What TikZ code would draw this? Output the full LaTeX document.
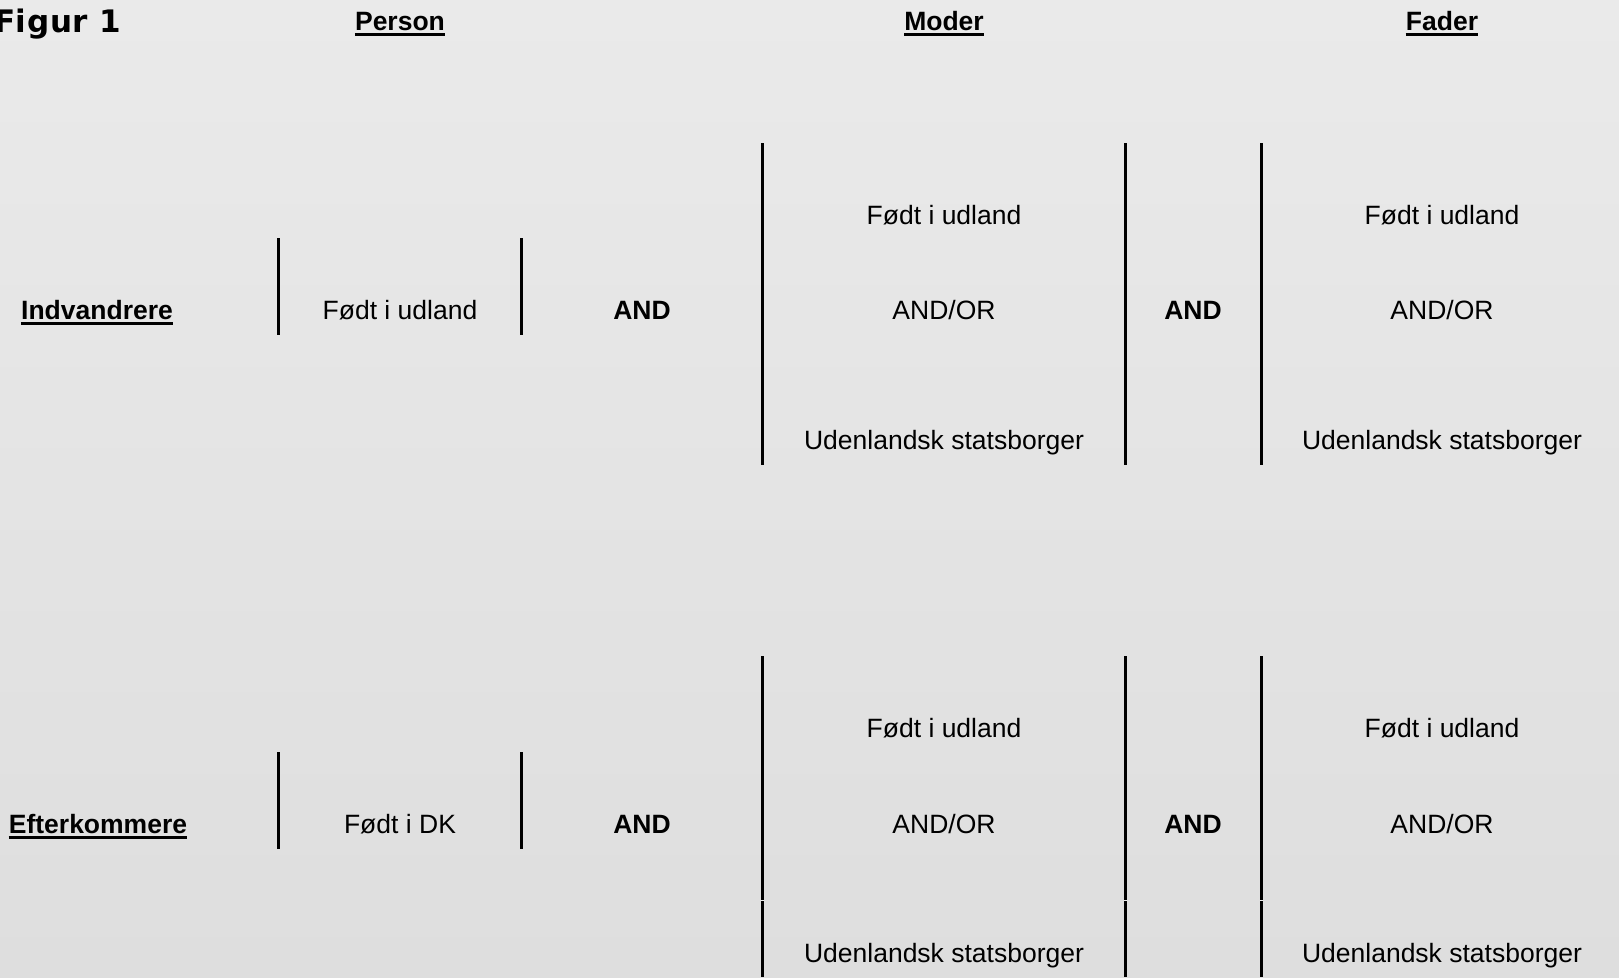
\documentclass[tikz,border=0pt]{standalone}
\usepackage{fontspec}
\setmainfont{Liberation Sans}
\newfontfamily\figfont[LetterSpace=2]{DejaVu Sans}
\begin{document}
\begin{tikzpicture}[x=1pt,y=-1pt,
  txt/.style={font=\fontsize{26.5}{30}\selectfont, inner sep=0pt, anchor=base},
  bold/.style={txt, font=\fontsize{26.5}{30}\selectfont\bfseries},
  bar/.style={line width=3pt, black},
  ul/.style={line width=2.6pt, black}]
\shade[top color={rgb,255:red,234;green,234;blue,234}, bottom color={rgb,255:red,222;green,222;blue,222}] (0,0) rectangle (1619,977);
\useasboundingbox (0,0) rectangle (1619,977);

% title
\node[inner sep=0pt, anchor=base west, font=\fontsize{31}{35}\selectfont\figfont\bfseries] (fig) at (-6,32.5) {Figur 1};

% headers
\node[bold] (hperson) at (400,30.5) {Person};
\node[bold] (hmoder) at (944,30.5) {Moder};
\node[bold] (hfader) at (1442,30.5) {Fader};
\foreach \n in {hperson,hmoder,hfader}
  \draw[ul] ([yshift=-4]\n.base west) -- ([yshift=-4]\n.base east);

% row 1
\node[bold] (ind) at (97,319.5) {Indvandrere};
\draw[ul] ([yshift=-4]ind.base west) -- ([yshift=-4]ind.base east);
\coordinate (s1a) at (278.5,238); \coordinate (s1b) at (278.5,335);
\coordinate (s2a) at (521,238); \coordinate (s2b) at (521,335);
\draw[bar] (s1a) -- (s1b);
\draw[bar] (s2a) -- (s2b);
\node[txt] (p1) at (400,319.5) {Født i udland};
\node[bold] (and1) at (642,319.5) {AND};
\coordinate (b1a) at (762.5,143); \coordinate (b1b) at (762.5,465);
\coordinate (b2a) at (1125.5,143); \coordinate (b2b) at (1125.5,465);
\coordinate (b3a) at (1261.5,143); \coordinate (b3b) at (1261.5,465);
\draw[bar] (b1a) -- (b1b);
\draw[bar] (b2a) -- (b2b);
\draw[bar] (b3a) -- (b3b);
\node[txt] (m1a) at (944,224.5) {Født i udland};
\node[txt] (m1b) at (944,319.5) {AND/OR};
\node[txt] (m1c) at (944,449.5) {Udenlandsk statsborger};
\node[bold] (and2) at (1193,319.5) {AND};
\node[txt] (f1a) at (1442,224.5) {Født i udland};
\node[txt] (f1b) at (1442,319.5) {AND/OR};
\node[txt] (f1c) at (1442,449.5) {Udenlandsk statsborger};

% row 2
\node[bold] (eft) at (98,833.5) {Efterkommere};
\draw[ul] ([yshift=-4]eft.base west) -- ([yshift=-4]eft.base east);
\coordinate (t1a) at (278.5,752); \coordinate (t1b) at (278.5,849);
\coordinate (t2a) at (521,752); \coordinate (t2b) at (521,849);
\draw[bar] (t1a) -- (t1b);
\draw[bar] (t2a) -- (t2b);
\node[txt] (p2) at (400,833.5) {Født i DK};
\node[bold] (and3) at (642,833.5) {AND};
\foreach \x [count=\i] in {762.5,1125.5,1261.5}{
  \coordinate (c\i a) at (\x,656);
  \coordinate (c\i b) at (\x,899.5);
  \coordinate (c\i c) at (\x,901);
  \coordinate (c\i d) at (\x,977);
  \draw[bar] (c\i a) -- (c\i b);
  \draw[bar] (c\i c) -- (c\i d);
  \draw[line width=1pt, white!85!gray] ([xshift=-1.5]c\i b) ++(0,0.75) -- ++(3,0);
}
\node[txt] (m2a) at (944,737.5) {Født i udland};
\node[txt] (m2b) at (944,833.5) {AND/OR};
\node[txt] (m2c) at (944,962.5) {Udenlandsk statsborger};
\node[bold] (and4) at (1193,833.5) {AND};
\node[txt] (f2a) at (1442,737.5) {Født i udland};
\node[txt] (f2b) at (1442,833.5) {AND/OR};
\node[txt] (f2c) at (1442,962.5) {Udenlandsk statsborger};
\end{tikzpicture}
\end{document}
